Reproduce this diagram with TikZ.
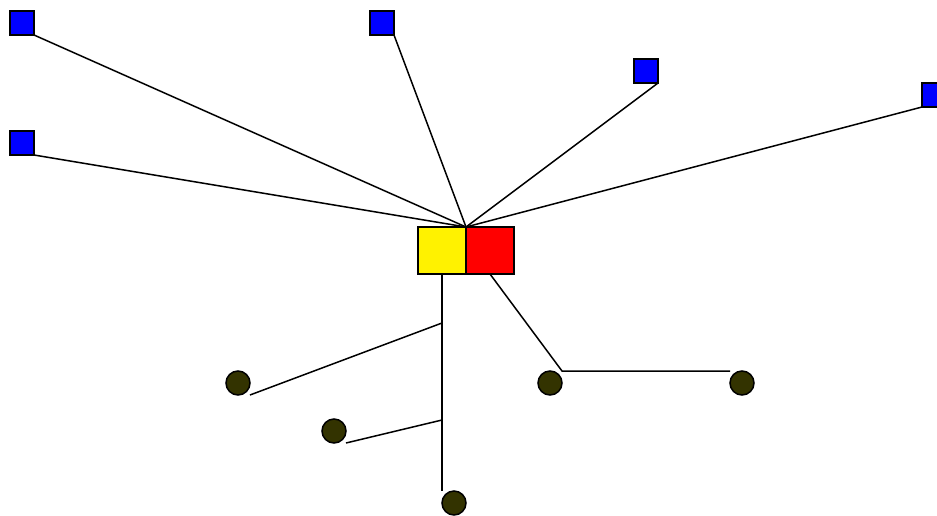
\documentclass[tikz,border=0pt]{standalone}
\begin{document}
\begin{tikzpicture}[x=1pt,y=-1pt,
  bsq/.style={draw=black,line width=1.5pt,fill=blue,minimum size=24pt,inner sep=0pt,outer sep=0pt},
  pbox/.style={draw=black,line width=1.5pt,minimum width=48pt,minimum height=47pt,inner sep=0pt,outer sep=0pt},
  dot/.style={circle,draw=black,line width=1.5pt,fill={rgb,255:red,51;green,51;blue,0},minimum size=24pt,inner sep=0pt},
  wire/.style={draw=black,line width=1.5pt}]
\useasboundingbox (0,0) rectangle (937,515);
\node[pbox,fill=yellow] (y) at (442,250.5) {};
\node[pbox,fill=red] (r) at (490,250.5) {};
\node[bsq] (b1) at (22,23) {};
\node[bsq] (b2) at (382,23) {};
\node[bsq] (b3) at (646,71) {};
\node[bsq] (b4) at (934,95) {};
\node[bsq] (b5) at (22,143) {};
\node[dot] (c1) at (238,383) {};
\node[dot] (c2) at (334,431) {};
\node[dot] (c3) at (454,503) {};
\node[dot] (c4) at (550,383) {};
\node[dot] (c5) at (742,383) {};
\coordinate (top) at (y.north east);
\draw[wire] (b1.south east) -- (top);
\draw[wire] (b2.south east) -- (top);
\draw[wire] (b3.south east) -- (top);
\draw[wire] (b4.south west) -- (top);
\draw[wire] (b5.south east) -- (top);
\coordinate (j1) at (442,323);
\coordinate (j2) at (442,420);
\coordinate (e3) at (442,491);
\coordinate (e1) at (250,395);
\coordinate (e2) at (346,443);
\draw[wire] (y.south) -- (e3);
\draw[wire] (j1) -- (e1);
\draw[wire] (j2) -- (e2);
\coordinate (k) at (562,371);
\coordinate (e5) at (730,371);
\draw[wire] (r.south) -- (k) -- (e5);
\end{tikzpicture}
\end{document}
